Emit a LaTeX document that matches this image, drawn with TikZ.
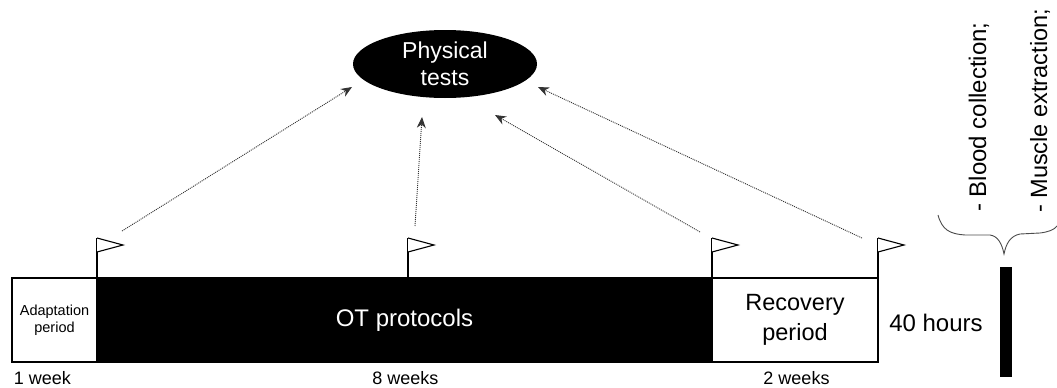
\documentclass[tikz,border=0pt]{standalone}
\usepackage{fontspec}
\setmainfont{Liberation Sans}
\usetikzlibrary{shapes.geometric,arrows.meta}

\tikzset{
  period/.style={draw=black,line width=2pt,rectangle,inner sep=0pt,minimum height=84pt},
  probe/.style={->,draw=black!80,line width=0.9pt,dash pattern=on 1pt off 1pt},
  flagpole/.style={line width=1.4pt},
  span/.style={font=\fontsize{18}{20}\selectfont,inner sep=0pt},
}

\begin{document}
\begin{tikzpicture}[x=1pt,y=-1pt,>={Stealth[length=11pt,width=9pt]}]
\useasboundingbox (0,0) rectangle (1057,388);
% timeline
\node[period,fill=white,minimum width=85pt,align=center,font=\fontsize{14.5}{17}\selectfont] (adapt) at (54.5,320) {Adaptation\\period};
\node[period,fill=black,text=white,minimum width=615pt,font=\fontsize{24}{29}\selectfont] (ot) at (404.5,320) {OT protocols};
\node[period,fill=white,minimum width=166pt,align=center,font=\fontsize{23.5}{30}\selectfont] (recov) at (795,320) {Recovery\\period};
\node[span] (wk1) at (42.5,378) {1 week};
\node[span] (wk8) at (405.5,378) {8 weeks};
\node[span] (wk2) at (796.5,378) {2 weeks};
% flags
\foreach \fx in {97,408,712,878} {
  \draw[flagpole] (\fx,278) -- (\fx,238);
  \draw[line width=1.1pt,fill=white,line join=miter] (\fx,238) -- (\fx+26,245) -- (\fx,252);
}
% tests
\node[ellipse,fill=black,text=white,minimum width=184pt,minimum height=68pt,inner sep=0pt,align=center,font=\fontsize{23}{27}\selectfont] (tests) at (445,64) {Physical\\tests};
\coordinate (s1) at (122,231);
\coordinate (s2) at (415,226);
\coordinate (s3) at (700,232);
\coordinate (s4) at (862,238);
\coordinate (t1) at (352,87);
\coordinate (t2) at (422,117);
\coordinate (t3) at (495,115);
\coordinate (t4) at (538,87);
\foreach \i in {1,2,3,4} \draw[probe] (s\i) -- (t\i);
% end point
\node[font=\fontsize{24}{29}\selectfont,inner sep=0pt] (hours) at (936,323) {40 hours};
\fill (1000,267) rectangle (1012,377);
\draw[black!70,line width=0.9pt] (938,215) .. controls (942,230) and (950,234) .. (965,235) -- (990,235) .. controls (998,236) and (1002,244) .. (1004,254) .. controls (1006,244) and (1010,236) .. (1020,234) -- (1040,233) .. controls (1048,232) and (1054,230) .. (1057,226);
\node[rotate=90,anchor=base west,inner sep=0pt,font=\fontsize{24}{29}\selectfont] (blood) at (986,212) {- Blood collection;};
\node[rotate=90,anchor=base west,inner sep=0pt,font=\fontsize{23.5}{29}\selectfont] (muscle) at (1047,213) {- Muscle extraction;};
\end{tikzpicture}
\end{document}
